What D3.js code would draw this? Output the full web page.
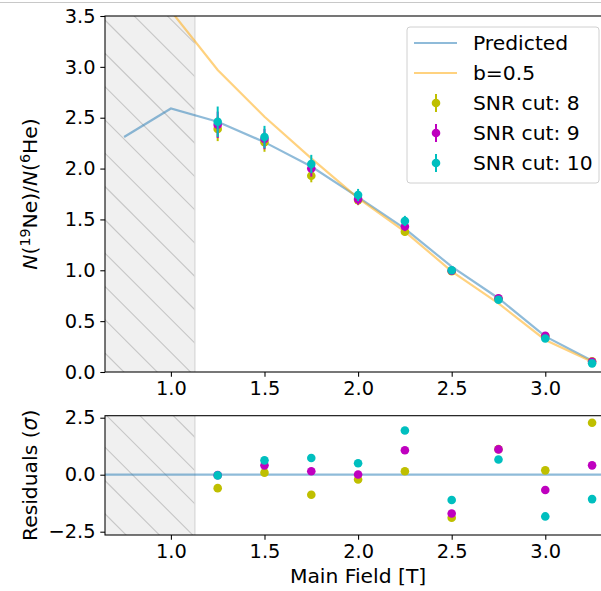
<!DOCTYPE html>
<html><head><meta charset="utf-8">
<script src="https://cdn.jsdelivr.net/npm/d3@7"></script>
<style>body{margin:0;background:#fff} text{font-family:"DejaVu Sans",sans-serif;fill:#000}</style>
</head><body><svg id="c" width="601" height="591"></svg>
<script>
// ---------- data ----------
const predField = [0.75, 1.0, 1.25, 1.5, 1.75, 2.0, 2.25, 2.5, 2.75, 3.0, 3.25];
const predicted = [2.31, 2.59, 2.46, 2.26, 2.02, 1.72, 1.41, 1.035, 0.725, 0.35, 0.11];
const b05       = [4.2, 3.55, 2.97, 2.51, 2.10, 1.71, 1.38, 0.99, 0.675, 0.315, 0.10];

const fields   = [1.25, 1.5, 1.75, 2.0, 2.25, 2.5, 2.75, 3.0, 3.25];
const snr8     = [2.39, 2.26, 1.93, 1.69, 1.38, 0.99, 0.72, 0.35, 0.105];
const snr8Err  = [0.12, 0.095, 0.065, 0.05, 0.04, 0.03, 0.02, 0.015, 0.01];
const snr9     = [2.43, 2.29, 2.00, 1.70, 1.43, 0.995, 0.725, 0.357, 0.10];
const snr9Err  = [0.13, 0.10, 0.08, 0.055, 0.045, 0.03, 0.02, 0.015, 0.01];
const snr10    = [2.46, 2.31, 2.045, 1.74, 1.485, 1.00, 0.71, 0.33, 0.085];
const snr10Err = [0.15, 0.11, 0.09, 0.06, 0.05, 0.035, 0.025, 0.018, 0.012];

const res8  = [-0.59, 0.09, -0.88, -0.21, 0.15, -1.89, 1.12, 0.19, 2.28];
const res9  = [-0.02, 0.41, 0.15, 0.01, 1.07, -1.70, 1.11, -0.67, 0.41];
const res10 = [-0.03, 0.63, 0.73, 0.50, 1.94, -1.11, 0.67, -1.83, -1.07];

const xTicks = [1.0, 1.5, 2.0, 2.5, 3.0];
const yTicksTop = [0, 0.5, 1.0, 1.5, 2.0, 2.5, 3.0, 3.5];
const yTicksRes = [-2.5, 0, 2.5];
const excludedMax = 1.128;

const series = [
  {label: "SNR cut: 8",  color: "#bfbf00", y: snr8,  err: snr8Err,  res: res8},
  {label: "SNR cut: 9",  color: "#bf00bf", y: snr9,  err: snr9Err,  res: res9},
  {label: "SNR cut: 10", color: "#00bfbf", y: snr10, err: snr10Err, res: res10}
];

// ---------- layout ----------
const L = 105, R = 608;
const topT = 16, topB = 372;
const botT = 415.7, botB = 535;
const FS = 19.4;   // tick labels
const FL = 20.3;   // axis labels & legend
const blue = "#1f77b4", orange = "#ffa500";

const svg = d3.select("#c");
svg.append("rect").attr("width", 601).attr("height", 591).attr("fill", "#fff");
svg.append("line").attr("x1", 0).attr("x2", 601).attr("y1", 2.5).attr("y2", 2.5)
  .attr("stroke", "#c8c8c8").attr("stroke-width", 1);

const x = d3.scaleLinear().domain([0.648, 3.335]).range([L, R]);
const yTop = d3.scaleLinear().domain([0, 3.5]).range([topB, topT]);
const yRes = d3.scaleLinear().domain([-2.645, 2.588]).range([botB, botT]);

const defs = svg.append("defs");
function clip(id, y0, y1) {
  defs.append("clipPath").attr("id", id).append("rect")
    .attr("x", L).attr("y", y0).attr("width", R - L).attr("height", y1 - y0);
}
clip("clipTop", topT, topB);
clip("clipBot", botT, botB);

function hatch(y0, y1, offset, clipId) {
  const g = svg.append("g").attr("clip-path", `url(#${clipId})`);
  const x1 = x(excludedMax);
  g.append("rect").attr("x", L).attr("y", y0).attr("width", x1 - L).attr("height", y1 - y0)
    .attr("fill", "#f0f0f0").attr("stroke", "none");
  const hc = g.append("g");
  hc.append("clipPath").attr("id", clipId + "h").append("rect")
    .attr("x", L).attr("y", y0).attr("width", x1 - L).attr("height", y1 - y0);
  const hl = hc.append("g").attr("clip-path", `url(#${clipId}h)`);
  const sp = 33.3;
  for (let c = offset - 20 * sp; c < 700; c += sp) {
    hl.append("line").attr("x1", L - 10).attr("y1", L - 10 + c)
      .attr("x2", x1 + 10).attr("y2", x1 + 10 + c)
      .attr("stroke", "#c6c6c6").attr("stroke-width", 1.1);
  }
  g.append("line").attr("x1", x1).attr("x2", x1).attr("y1", y0).attr("y2", y1)
    .attr("stroke", "#d8d8d8").attr("stroke-width", 1.3);
}
hatch(topT, topB, 15, "clipTop");
hatch(botT, botB, 9.3, "clipBot");

// ---------- top panel ----------
const gTop = svg.append("g").attr("clip-path", "url(#clipTop)");
const line = d3.line().x(d => x(d[0])).y(d => yTop(d[1]));
gTop.append("path").datum(predField.map((f, i) => [f, predicted[i]]))
  .attr("d", line).attr("fill", "none").attr("stroke", blue).attr("stroke-opacity", 0.5).attr("stroke-width", 2.2);
gTop.append("path").datum(predField.map((f, i) => [f, b05[i]]))
  .attr("d", line).attr("fill", "none").attr("stroke", orange).attr("stroke-opacity", 0.5).attr("stroke-width", 2.2);

series.forEach(s => {
  const g = gTop.append("g");
  fields.forEach((f, i) => {
    g.append("line").attr("x1", x(f)).attr("x2", x(f))
      .attr("y1", yTop(s.y[i] - s.err[i])).attr("y2", yTop(s.y[i] + s.err[i]))
      .attr("stroke", s.color).attr("stroke-width", 2);
    g.append("circle").attr("cx", x(f)).attr("cy", yTop(s.y[i])).attr("r", 4.3).attr("fill", s.color);
  });
});

// ---------- bottom panel ----------
const gBot = svg.append("g").attr("clip-path", "url(#clipBot)");
gBot.append("line").attr("x1", L).attr("x2", R).attr("y1", yRes(0)).attr("y2", yRes(0))
  .attr("stroke", blue).attr("stroke-opacity", 0.5).attr("stroke-width", 2.2);
series.forEach(s => {
  gBot.append("g").selectAll("circle").data(fields).join("circle")
    .attr("cx", d => x(d)).attr("cy", (d, i) => yRes(s.res[i])).attr("r", 4.3).attr("fill", s.color);
});

// ---------- axes ----------
function styleAxis(g) {
  g.select(".domain").remove();
  g.selectAll(".tick line").attr("stroke", "#000").attr("stroke-width", 1.07);
  g.selectAll(".tick text").attr("font-size", FS).attr("font-family", "DejaVu Sans").attr("fill", "#000");
}
const fmt = d3.format(".1f");
svg.append("g").attr("transform", `translate(0,${topB})`)
  .call(d3.axisBottom(x).tickValues(xTicks).tickFormat(fmt).tickSize(4.7).tickPadding(4.7)).call(styleAxis);
svg.append("g").attr("transform", `translate(0,${botB})`)
  .call(d3.axisBottom(x).tickValues(xTicks).tickFormat(fmt).tickSize(4.7).tickPadding(4.7)).call(styleAxis);
svg.append("g").attr("transform", `translate(${L},0)`)
  .call(d3.axisLeft(yTop).tickValues(yTicksTop).tickFormat(fmt).tickSize(4.7).tickPadding(4.7)).call(styleAxis);
svg.append("g").attr("transform", `translate(${L},0)`)
  .call(d3.axisLeft(yRes).tickValues(yTicksRes).tickFormat(fmt).tickSize(4.7).tickPadding(4.7)).call(styleAxis);

// spines
[[topT, topB], [botT, botB]].forEach(([a, b]) => {
  svg.append("rect").attr("x", L).attr("y", a).attr("width", R - L).attr("height", b - a)
    .attr("fill", "none").attr("stroke", "#000").attr("stroke-width", 1.07);
});

// ---------- labels ----------
svg.append("text").attr("x", x(2.0)).attr("y", 583).attr("text-anchor", "middle")
  .attr("font-size", FL).text("Main Field [T]");

const yl = svg.append("text").attr("transform", `translate(37,${(topT + topB) / 2}) rotate(-90)`)
  .attr("text-anchor", "middle").attr("font-size", FL);
yl.append("tspan").attr("font-style", "italic").text("N");
yl.append("tspan").text("(");
yl.append("tspan").attr("font-size", FL * 0.7).attr("dy", -7.3).text("19");
yl.append("tspan").attr("dy", 7.3).text("Ne)/");
yl.append("tspan").attr("font-style", "italic").text("N");
yl.append("tspan").text("(");
yl.append("tspan").attr("font-size", FL * 0.7).attr("dy", -7.3).text("6");
yl.append("tspan").attr("dy", 7.3).text("He)");

const rl = svg.append("text").attr("transform", `translate(37,${(botT + botB) / 2}) rotate(-90)`)
  .attr("text-anchor", "middle").attr("font-size", FL);
rl.append("tspan").text("Residuals (");
rl.append("tspan").attr("font-style", "italic").text("σ");
rl.append("tspan").text(")");

// ---------- legend ----------
const lg = svg.append("g");
lg.append("rect").attr("x", 407).attr("y", 27).attr("width", 192).attr("height", 156).attr("rx", 3)
  .attr("fill", "#fff").attr("fill-opacity", 0.8).attr("stroke", "#d0d0d0").attr("stroke-width", 1);
const legendItems = [
  {label: "Predicted", type: "line", color: blue},
  {label: "b=0.5", type: "line", color: orange},
  ...series.map(s => ({label: s.label, type: "err", color: s.color}))
];
legendItems.forEach((it, i) => {
  const cy = 43 + i * 30;
  if (it.type === "line") {
    lg.append("line").attr("x1", 414).attr("x2", 457).attr("y1", cy).attr("y2", cy)
      .attr("stroke", it.color).attr("stroke-opacity", 0.5).attr("stroke-width", 2.2);
  } else {
    lg.append("line").attr("x1", 436).attr("x2", 436).attr("y1", cy - 9).attr("y2", cy + 9)
      .attr("stroke", it.color).attr("stroke-width", 2);
    lg.append("circle").attr("cx", 436).attr("cy", cy).attr("r", 4.3).attr("fill", it.color);
  }
  lg.append("text").attr("x", 473).attr("y", cy).attr("dy", "0.36em").attr("font-size", FL).text(it.label);
});
</script></body></html>
